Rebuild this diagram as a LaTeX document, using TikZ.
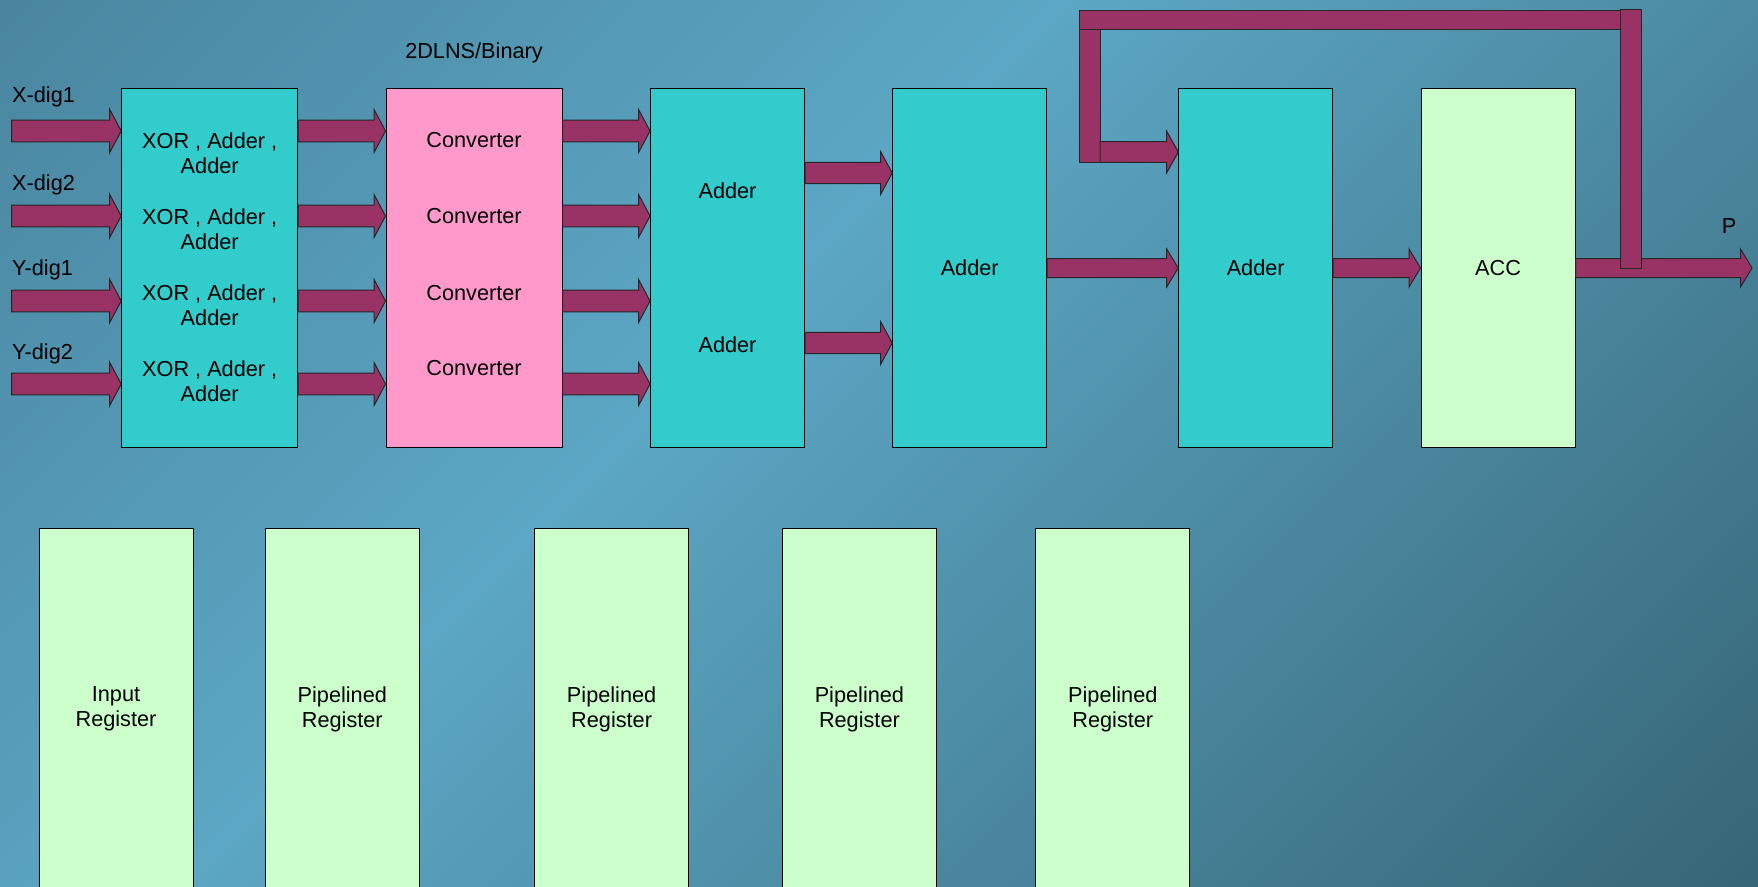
\documentclass[tikz,border=0pt]{standalone}
\usepackage{fontspec}
\setmainfont{Liberation Sans}
\usetikzlibrary{calc}

\definecolor{bgtop}{HTML}{4A86A0}
\definecolor{bgmid}{HTML}{5CA7C5}
\definecolor{bgbot}{HTML}{376677}
\definecolor{unitcol}{HTML}{33CCCC}
\definecolor{convcol}{HTML}{FF99CC}
\definecolor{regcol}{HTML}{CCFFCC}
\definecolor{buscol}{HTML}{993366}

\pgfdeclarehorizontalshading{slide}{100bp}{color(0bp)=(bgtop); color(15bp)=(bgtop); color(43bp)=(bgmid); color(85bp)=(bgbot); color(100bp)=(bgbot)}

\newcommand{\slidefont}{\fontsize{21.7}{25}\selectfont}

% fat arrow from #1 to #2, #3 = half of the shaft
\newcommand{\busarrow}[3]{%
  \draw[bus] let \p1=#1, \p2=#2 in
    (\x1,{\y1+#3}) -- ({\x2-11.5pt},{\y1+#3}) -- ({\x2-11.5pt},{\y1+2*#3}) -- (\x2,\y1)
    -- ({\x2-11.5pt},{\y1-2*#3}) -- ({\x2-11.5pt},{\y1-#3}) -- (\x1,{\y1-#3}) -- cycle;}

\begin{document}
\begin{tikzpicture}[x=1pt,y=-1pt]
  \tikzstyle{unit}=[draw=black,line width=1pt,fill=unitcol,minimum width=154pt,minimum height=359pt,inner sep=0pt,font=\slidefont]
  \tikzstyle{reg}=[draw=black,line width=1pt,fill=regcol,minimum width=154pt,minimum height=362pt,inner sep=0pt,align=center,font=\slidefont]
  \tikzstyle{txt}=[inner sep=0pt,align=center,font=\slidefont]
  \tikzstyle{bus}=[draw=black!85,fill=buscol,line width=1pt]

  \shade[shading=slide,shading angle=-45] (0,0) rectangle (1758,886);
  \useasboundingbox (0,0) rectangle (1758,886);

  \node[unit,minimum width=176pt] (xor) at (209.7,268) {};
  \node[unit,minimum width=176pt,fill=convcol] (conv) at (474,268) {};
  \node[unit] (add1) at (727.5,268) {};
  \node[unit] (add2) at (969.7,268) {Adder};
  \node[unit] (add3) at (1255.7,268) {Adder};
  \node[unit,fill=regcol] (acc) at (1498,268) {ACC};

  \node[reg] (reg0) at (116,709) {Input\\Register};
  \node[reg] (reg1) at (342.3,709) {Pipelined\\Register};
  \node[reg] (reg2) at (611.6,709) {Pipelined\\Register};
  \node[reg] (reg3) at (859.4,709) {Pipelined\\Register};
  \node[reg] (reg4) at (1112.8,709) {Pipelined\\Register};

  \node[txt] (title) at (474,53) {2DLNS/Binary};

  \node[txt,anchor=base west] (xd1) at (12,102.5) {X-dig1};
  \node[txt,anchor=base west] (xd2) at (12,190) {X-dig2};
  \node[txt,anchor=base west] (yd1) at (12,275) {Y-dig1};
  \node[txt,anchor=base west] (yd2) at (12,359.5) {Y-dig2};

  \node[txt] (xa1) at (209.7,153) {XOR , Adder ,\\Adder};
  \node[txt] (xa2) at (209.7,229) {XOR , Adder ,\\Adder};
  \node[txt] (xa3) at (209.7,305) {XOR , Adder ,\\Adder};
  \node[txt] (xa4) at (209.7,381) {XOR , Adder ,\\Adder};

  \node[txt] (cv1) at (474,140.2) {Converter};
  \node[txt] (cv2) at (474,216.4) {Converter};
  \node[txt] (cv3) at (474,292.6) {Converter};
  \node[txt] (cv4) at (474,367.8) {Converter};

  \node[txt] (ad1) at (727.5,191) {Adder};
  \node[txt] (ad2) at (727.5,345) {Adder};

  \node[txt] (p) at (1729,226) {P};

  \coordinate (in1) at (11.7,131);
  \coordinate (in2) at (11.7,216);
  \coordinate (in3) at (11.7,301);
  \coordinate (in4) at (11.7,384);
  \coordinate (mid1) at (0,173);
  \coordinate (mid2) at (0,343);
  \coordinate (out) at (1752,268);

  \busarrow{(in1)}{(xor.west |- in1)}{10.8pt}
  \busarrow{(in2)}{(xor.west |- in2)}{10.8pt}
  \busarrow{(in3)}{(xor.west |- in3)}{10.8pt}
  \busarrow{(in4)}{(xor.west |- in4)}{10.8pt}

  \busarrow{(xor.east |- in1)}{(conv.west |- in1)}{10.8pt}
  \busarrow{(xor.east |- in2)}{(conv.west |- in2)}{10.8pt}
  \busarrow{(xor.east |- in3)}{(conv.west |- in3)}{10.8pt}
  \busarrow{(xor.east |- in4)}{(conv.west |- in4)}{10.8pt}

  \busarrow{(conv.east |- in1)}{(add1.west |- in1)}{10.8pt}
  \busarrow{(conv.east |- in2)}{(add1.west |- in2)}{10.8pt}
  \busarrow{(conv.east |- in3)}{(add1.west |- in3)}{10.8pt}
  \busarrow{(conv.east |- in4)}{(add1.west |- in4)}{10.8pt}

  \busarrow{(add1.east |- mid1)}{(add2.west |- mid1)}{10.6pt}
  \busarrow{(add1.east |- mid2)}{(add2.west |- mid2)}{10.6pt}

  \busarrow{(add2.east)}{(add3.west)}{9.5pt}
  \busarrow{(add3.east)}{(acc.west)}{9.5pt}

  % feedback from the output back to the last adder
  \coordinate (fbl) at (1079,10);
  \coordinate (fbr) at (1641,10);
  \coordinate (fbin) at (1100,152);
  \draw[bus] (fbl) rectangle ($(fbr)+(0,19.3)$);
  \draw[bus] ($(fbl)+(0,19.3)$) rectangle (1100,162.3);
  \busarrow{(fbin)}{(add3.west |- fbin)}{10.4pt}
  \busarrow{(acc.east)}{(out)}{9.5pt}
  \draw[bus] (1620,9.3) rectangle (out -| fbr);

\end{tikzpicture}
\end{document}
